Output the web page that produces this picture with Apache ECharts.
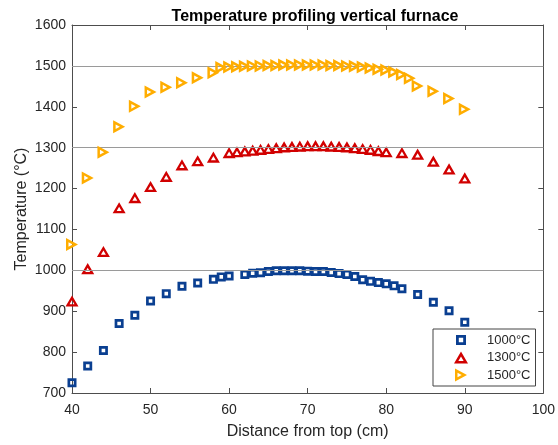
<!DOCTYPE html>
<html>
<head>
<meta charset="utf-8">
<script src="https://cdn.jsdelivr.net/npm/echarts@6/dist/echarts.min.js"></script>
<style>
html,body{margin:0;padding:0;background:#fff;}
#c{width:558px;height:445px;}
</style>
</head>
<body>
<div id="c"></div>
<script>
// ---- data ----
var x1000 = [40,42,44,46,48,50,52,54,56,58,59,60,62,63,64,65,66,67,68,69,70,71,72,73,74,75,76,77,78,79,80,81,82,84,86,88,90];
var y1000 = [725,766,804,870,890,925,943,961,969,978,984,986,990,993,994,997,999,999,999,999,998,997,997,995,992,990,985,977,973,970,967,962,955,941,922,901,873];

var x1300 = [40,42,44,46,48,50,52,54,56,58,60,61,62,63,64,65,66,67,68,69,70,71,72,73,74,75,76,77,78,79,80,82,84,86,88,90];
var y1300 = [925,1004,1046,1153,1178,1205,1230,1258,1268,1277,1288,1290,1292,1294,1296,1298,1300,1302,1303,1304,1305,1305,1305,1304,1303,1302,1300,1298,1296,1293,1290,1288,1284,1267,1248,1226];

var x1500 = [40,42,44,46,48,50,52,54,56,58,59,60,61,62,63,64,65,66,67,68,69,70,71,72,73,74,75,76,77,78,79,80,81,82,83,84,86,88,90];
var y1500 = [1063,1226,1289,1351,1401,1436,1448,1459,1471,1483,1496,1497,1498,1499,1500,1500,1501,1501,1502,1502,1502,1502,1502,1502,1501,1501,1500,1499,1497,1495,1492,1490,1485,1479,1470,1451,1438,1420,1394];

var seriesNames = ['1000°C','1300°C','1500°C'];
var refLines = [1000,1300,1500];
var xTicks = {min:40, max:100, interval:10};
var yTicks = {min:700, max:1600, interval:100};

function pairs(xs, ys){ return xs.map(function(x,i){ return [x, ys[i]]; }); }

var FONT = 'Liberation Sans, Arial, Helvetica, sans-serif';
var AX = '#4d4d4d';
var TXT = '#262626';
var C1 = '#0a3f91', C2 = '#d10000', C3 = '#ffad00';

// hollow marker shapes (outer outline with inner hole)
var sqPath  = 'path://M0,0L10,0L10,10L0,10ZM3,3L3,7L7,7L7,3Z';
var triUp   = 'path://M0,12L7,0L14,12ZM4.35,9.5L9.65,9.5L7,4.96Z';
var triRt   = 'path://M0,0L12,6.5L0,13ZM2.5,4.2L2.5,8.8L6.73,6.5Z';
// legend versions padded to a 14x14 box
var sqLeg   = 'path://M-2,-2L-2,-2M12,12L12,12M0,0L10,0L10,10L0,10ZM2.8,2.8L2.8,7.2L7.2,7.2L7.2,2.8Z';
var triUpLeg= 'path://M0,-1L0,-1M14,13L14,13M0,12L7,0L14,12ZM4.35,9.5L9.65,9.5L7,4.96Z';
var triRtLeg= 'path://M-1,-0.5L-1,-0.5M13,13.5L13,13.5M0,0L12,6.5L0,13ZM2.5,4.2L2.5,8.8L6.73,6.5Z';

function plain(v){ return String(v); }

var chart = echarts.init(document.getElementById('c'), null, {renderer:'canvas'});
chart.setOption({
  animation:false,
  backgroundColor:'#ffffff',
  textStyle:{fontFamily:FONT},
  title:{
    text:'Temperature profiling vertical furnace',
    left:310, top:4, textAlign:'center',
    textStyle:{fontSize:16, fontWeight:'bold', color:'#000', fontFamily:FONT}
  },
  grid:{left:72, right:11, top:25, bottom:49, containLabel:false},
  legend:{
    orient:'vertical',
    left:433, top:329,
    data:[
      {name:seriesNames[0], icon:sqLeg},
      {name:seriesNames[1], icon:triUpLeg},
      {name:seriesNames[2], icon:triRtLeg}
    ],
    itemWidth:42, itemHeight:14, itemGap:3.5,
    symbolKeepAspect:true,
    padding:[4,5,4,21],
    backgroundColor:'#fff',
    borderColor:'#444', borderWidth:1, borderRadius:0,
    textStyle:{fontSize:13, color:TXT, fontFamily:FONT}
  },
  xAxis:[{
    type:'value', min:xTicks.min, max:xTicks.max, interval:xTicks.interval, position:'bottom',
    axisLine:{show:true, onZero:false, lineStyle:{color:AX, width:1}},
    axisTick:{show:true, inside:true, length:5, lineStyle:{color:AX}},
    axisLabel:{fontSize:14, color:TXT, margin:10, fontFamily:FONT, formatter:plain},
    splitLine:{show:false},
    name:'Distance from top (cm)', nameLocation:'middle', nameGap:31, nameMoveOverlap:false,
    nameTextStyle:{fontSize:16, color:TXT, fontFamily:FONT}
  },{
    type:'value', min:xTicks.min, max:xTicks.max, interval:xTicks.interval, position:'top',
    axisLine:{show:true, onZero:false, lineStyle:{color:AX, width:1}},
    axisTick:{show:true, inside:true, length:5, lineStyle:{color:AX}},
    axisLabel:{show:false}, splitLine:{show:false}
  }],
  yAxis:[{
    type:'value', min:yTicks.min, max:yTicks.max, interval:yTicks.interval, position:'left',
    axisLine:{show:true, onZero:false, lineStyle:{color:AX, width:1}},
    axisTick:{show:true, inside:true, length:5, lineStyle:{color:AX}},
    axisLabel:{fontSize:14, color:TXT, margin:6, fontFamily:FONT, formatter:plain},
    splitLine:{show:false},
    name:'Temperature (°C)', nameLocation:'middle', nameGap:42, nameRotate:90, nameMoveOverlap:false,
    nameTextStyle:{fontSize:16, color:TXT, fontFamily:FONT}
  },{
    type:'value', min:yTicks.min, max:yTicks.max, interval:yTicks.interval, position:'right',
    axisLine:{show:true, onZero:false, lineStyle:{color:AX, width:1}},
    axisTick:{show:true, inside:true, length:5, lineStyle:{color:AX}},
    axisLabel:{show:false}, splitLine:{show:false}
  }],
  series:[
    {
      name:'ref', type:'line', data:[], silent:true, z:1,
      markLine:{
        silent:true, symbol:['none','none'], label:{show:false},
        lineStyle:{color:'#9a9a9a', width:1, type:'solid'},
        emphasis:{disabled:true},
        data:refLines.map(function(v){ return {yAxis:v}; })
      }
    },
    {
      name:seriesNames[0], type:'scatter', data:pairs(x1000,y1000),
      symbol:sqPath, symbolSize:9, symbolKeepAspect:true, z:3,
      itemStyle:{color:C1, opacity:1}
    },
    {
      name:seriesNames[1], type:'scatter', data:pairs(x1300,y1300),
      symbol:triUp, symbolSize:[13,11.2], z:4,
      itemStyle:{color:C2, opacity:1}
    },
    {
      name:seriesNames[2], type:'scatter', data:pairs(x1500,y1500),
      symbol:triRt, symbolSize:[12,13], z:5,
      itemStyle:{color:C3, opacity:1}
    }
  ]
});
</script>
</body>
</html>
